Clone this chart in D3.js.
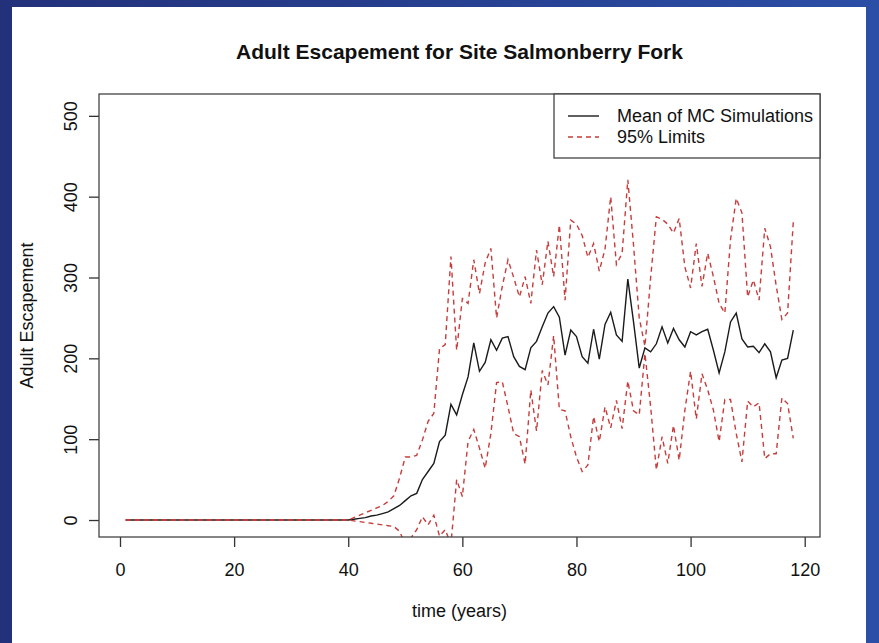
<!DOCTYPE html>
<html>
<head>
<meta charset="utf-8">
<script src="https://cdn.jsdelivr.net/npm/d3@7"></script>
<style>
  body { margin: 0; background: #2a3f8f; }
  svg { display: block; font-family: "Liberation Sans", Arial, sans-serif; }
</style>
</head>
<body>
<svg id="chart" width="879" height="643"></svg>
<script>
// years 1..118
const years = d3.range(1, 119);

// mean of MC simulations, years 41..118 (years 1..40 are zero)
const meanTail = [1, 2, 3, 5, 6, 8, 10, 14, 18, 24, 30, 33, 50, 60, 70, 97, 105, 143, 130, 155,
  177, 219, 184, 195, 223, 210, 225, 227, 202, 190, 186, 213, 221, 239, 256, 264, 251, 204, 235, 227,
  202, 194, 236, 199, 242, 257, 229, 221, 298, 245, 188, 213, 208, 218, 239, 219, 237, 223, 214, 233,
  229, 233, 236, 210, 182, 208, 245, 256, 224, 214, 215, 207, 218, 208, 176, 198, 200, 235];

// upper 95% limit, years 41..118
const upperTail = [3, 6, 9, 12, 15, 18, 23, 30, 52, 78, 78, 80, 99, 122, 132, 212, 217, 326, 210, 274,
  268, 322, 280, 318, 336, 250, 289, 322, 300, 276, 301, 268, 334, 291, 345, 301, 365, 272, 371, 366,
  352, 325, 342, 308, 335, 400, 316, 330, 421, 340, 250, 215, 300, 375, 372, 366, 355, 373, 313, 287,
  342, 289, 330, 301, 268, 256, 347, 398, 380, 276, 297, 272, 361, 338, 290, 248, 256, 369];

// lower 95% limit, years 41..118
const lowerTail = [-1, -2, -3, -4, -5, -6, -7, -8, -14, -30, -22, -12, 4, -6, 6, -20, -12, -30, 50, 29,
  97, 112, 89, 64, 107, 170, 171, 140, 107, 103, 69, 161, 110, 185, 167, 228, 137, 135, 103, 78,
  60, 68, 128, 97, 140, 114, 148, 113, 172, 135, 130, 206, 140, 62, 103, 70, 117, 74, 136, 184,
  125, 181, 161, 136, 97, 149, 149, 107, 72, 147, 140, 145, 76, 82, 82, 151, 144, 101];

const zeros = d3.range(40).map(() => 0);
const meanVals = zeros.concat(meanTail);
const upperVals = zeros.concat(upperTail);
const lowerVals = zeros.concat(lowerTail);

const xTicks = [0, 20, 40, 60, 80, 100, 120];
const yTicks = [0, 100, 200, 300, 400, 500];

const titleText = "Adult Escapement for Site Salmonberry Fork";
const xLabel = "time (years)";
const yLabel = "Adult Escapement";
const legendLabels = ["Mean of MC Simulations", "95% Limits"];

const svg = d3.select("#chart");
const width = 879, height = 643;
const plot = { left: 99, right: 820, top: 94, bottom: 537 };
const red = "#c83c3c";

// slide background
const defs = svg.append("defs");
const grad = defs.append("linearGradient").attr("id", "bg")
    .attr("x1", "0%").attr("y1", "0%").attr("x2", "100%").attr("y2", "0%");
grad.append("stop").attr("offset", "0%").attr("stop-color", "#23317a");
grad.append("stop").attr("offset", "100%").attr("stop-color", "#2b4ea6");
svg.append("rect").attr("width", width).attr("height", height).attr("fill", "url(#bg)");

svg.append("rect")
    .attr("x", 12).attr("y", 7)
    .attr("width", 854).attr("height", 636)
    .attr("fill", "#fff");

defs.append("clipPath").attr("id", "clip")
  .append("rect")
    .attr("x", plot.left).attr("y", plot.top)
    .attr("width", plot.right - plot.left).attr("height", plot.bottom - plot.top);

// scales (R style 4% padding on x)
const x = d3.scaleLinear()
    .domain([1 - 117 * 0.04, 118 + 117 * 0.04])
    .range([plot.left, plot.right]);

const y = d3.scaleLinear()
    .domain([-21, 527])
    .range([plot.bottom, plot.top]);

const line = d3.line()
    .x((d, i) => x(years[i]))
    .y(d => y(d));

const lines = svg.append("g").attr("clip-path", "url(#clip)");

lines.append("path")
    .datum(meanVals)
    .attr("d", line)
    .attr("fill", "none")
    .attr("stroke", "#1a1a1a")
    .attr("stroke-width", 1.4);

[upperVals, lowerVals].forEach(vals => {
    lines.append("path")
        .datum(vals)
        .attr("d", line)
        .attr("fill", "none")
        .attr("stroke", red)
        .attr("stroke-width", 1.4)
        .attr("stroke-dasharray", "5,4");
});

// axes
const xAxis = svg.append("g")
    .attr("transform", `translate(0,${plot.bottom})`)
    .call(d3.axisBottom(x).tickValues(xTicks).tickSize(10).tickPadding(16));

const yAxis = svg.append("g")
    .attr("transform", `translate(${plot.left},0)`)
    .call(d3.axisLeft(y).tickValues(yTicks).tickSize(10));

[xAxis, yAxis].forEach(g => {
    g.select(".domain").remove();
    g.selectAll(".tick line").attr("stroke", "#333").attr("stroke-width", 1.3);
    g.selectAll(".tick text")
        .attr("fill", "#111")
        .style("font-size", "18px")
        .style("font-family", "Liberation Sans, Arial, sans-serif");
});

xAxis.selectAll(".tick text").attr("dy", "0.71em");

yAxis.selectAll(".tick text")
    .attr("x", null).attr("dy", null)
    .attr("text-anchor", "middle")
    .attr("transform", "translate(-22,0) rotate(-90)");

// box
svg.append("rect")
    .attr("x", plot.left).attr("y", plot.top)
    .attr("width", plot.right - plot.left).attr("height", plot.bottom - plot.top)
    .attr("fill", "none")
    .attr("stroke", "#444")
    .attr("stroke-width", 1.3);

// title & labels
svg.append("text")
    .attr("x", (plot.left + plot.right) / 2)
    .attr("y", 59)
    .attr("text-anchor", "middle")
    .style("font-size", "21px")
    .style("font-weight", "bold")
    .attr("fill", "#111")
    .text(titleText);

svg.append("text")
    .attr("x", (plot.left + plot.right) / 2)
    .attr("y", 617)
    .attr("text-anchor", "middle")
    .style("font-size", "18px")
    .attr("fill", "#111")
    .text(xLabel);

svg.append("text")
    .attr("transform", `translate(33,${(plot.top + plot.bottom) / 2}) rotate(-90)`)
    .attr("text-anchor", "middle")
    .style("font-size", "18px")
    .attr("fill", "#111")
    .text(yLabel);

// legend
const legend = svg.append("g");
legend.append("rect")
    .attr("x", 554).attr("y", plot.top)
    .attr("width", plot.right - 554).attr("height", 64)
    .attr("fill", "#fff")
    .attr("stroke", "#444")
    .attr("stroke-width", 1.3);

legendLabels.forEach((label, i) => {
    const ly = 116 + i * 21;
    legend.append("line")
        .attr("x1", 568).attr("x2", 599)
        .attr("y1", ly).attr("y2", ly)
        .attr("stroke", i === 0 ? "#1a1a1a" : red)
        .attr("stroke-width", 1.4)
        .attr("stroke-dasharray", i === 0 ? null : "5,4");
    legend.append("text")
        .attr("x", 617).attr("y", ly + 6)
        .style("font-size", "18px")
        .attr("fill", "#111")
        .text(label);
});
</script>
</body>
</html>
